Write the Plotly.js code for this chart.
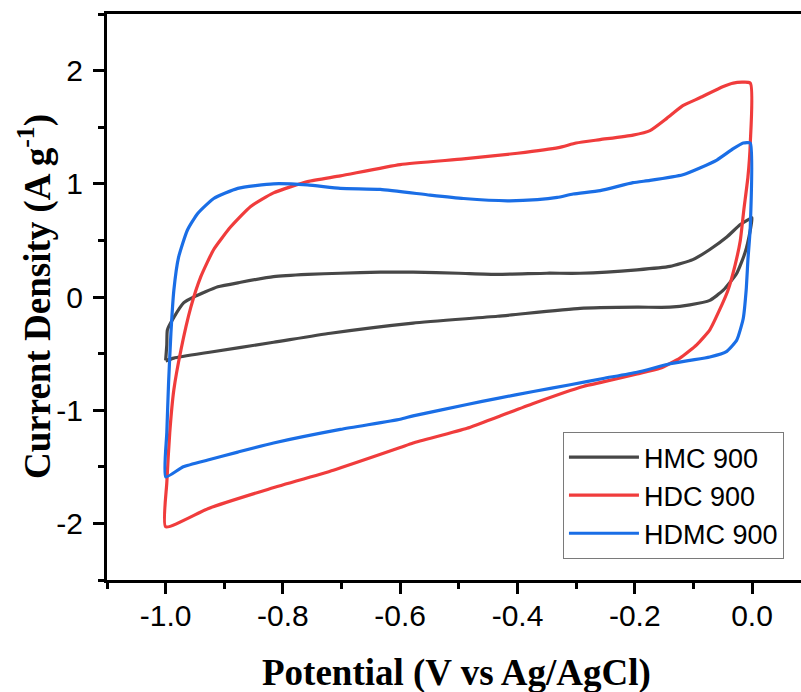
<!DOCTYPE html>
<html>
<head>
<meta charset="utf-8">
<script src="https://cdn.plot.ly/plotly-3.0.1.min.js"></script>
<style>html,body{margin:0;padding:0;background:#fff;overflow:hidden;}</style>
</head>
<body>
<div id="chart" style="width:801px;height:692px;"></div>
<script>
// Series names
const seriesNames = ["HMC 900", "HDC 900", "HDMC 900"];

// HMC 900 loop (anodic branch then cathodic branch)
const hmcX = [-1.0, -0.998, -0.997, -0.986, -0.969, -0.952, -0.911, -0.872, -0.816, -0.758, -0.702, -0.634, -0.578, -0.5, -0.434, -0.35, -0.293, -0.196, -0.14, -0.101, -0.072, -0.043, -0.02, -0.004, 0.0,
              -0.003, -0.012, -0.026, -0.049, -0.072, -0.106, -0.14, -0.196, -0.293, -0.434, -0.578, -0.719, -0.816, -0.928, -0.986, -1.0];
const hmcY = [-0.56, -0.42, -0.29, -0.18, -0.05, 0.0, 0.09, 0.13, 0.18, 0.20, 0.21, 0.22, 0.22, 0.21, 0.20, 0.21, 0.21, 0.24, 0.27, 0.33, 0.42, 0.53, 0.64, 0.69, 0.70,
              0.59, 0.39, 0.21, 0.06, -0.03, -0.07, -0.09, -0.09, -0.10, -0.17, -0.23, -0.32, -0.40, -0.49, -0.54, -0.565];

// HDC 900 loop
const hdcX = [-1.0, -0.998, -0.993, -0.986, -0.974, -0.957, -0.94, -0.918, -0.889, -0.855, -0.816, -0.758, -0.702, -0.6, -0.492, -0.4, -0.33, -0.3, -0.259, -0.203, -0.174, -0.145, -0.118, -0.089, -0.049, -0.032, -0.003,
              -0.003, -0.007, -0.014, -0.02, -0.029, -0.041, -0.055, -0.072, -0.094, -0.123, -0.157, -0.196, -0.254, -0.288, -0.373, -0.434, -0.486, -0.578, -0.6, -0.714, -0.826, -0.928, -1.0];
const hdcY = [-2.03, -1.64, -1.20, -0.82, -0.47, -0.09, 0.18, 0.42, 0.62, 0.80, 0.92, 1.02, 1.07, 1.17, 1.22, 1.27, 1.32, 1.36, 1.39, 1.43, 1.47, 1.58, 1.69, 1.76, 1.86, 1.89, 1.89,
              1.36, 1.06, 0.77, 0.50, 0.28, 0.06, -0.11, -0.29, -0.42, -0.54, -0.63, -0.68, -0.75, -0.79, -0.94, -1.06, -1.16, -1.29, -1.33, -1.53, -1.70, -1.87, -2.03];

// HDMC 900 loop
const hdmcX = [-1.0, -0.998, -0.995, -0.991, -0.986, -0.978, -0.963, -0.945, -0.918, -0.877, -0.816, -0.758, -0.702, -0.634, -0.549, -0.492, -0.417, -0.366, -0.332, -0.305, -0.259, -0.203, -0.174, -0.118, -0.089, -0.06, -0.032, -0.015, -0.003,
               -0.003, -0.007, -0.01, -0.015, -0.026, -0.043, -0.072, -0.106, -0.14, -0.196, -0.254, -0.31, -0.373, -0.434, -0.486, -0.578, -0.6, -0.702, -0.816, -0.877, -0.928, -0.97, -1.0];
const hdmcY = [-1.59, -1.20, -0.76, -0.32, 0.06, 0.35, 0.59, 0.74, 0.87, 0.96, 1.0, 0.99, 0.96, 0.95, 0.90, 0.87, 0.85, 0.86, 0.88, 0.91, 0.94, 1.01, 1.03, 1.08, 1.14, 1.21, 1.31, 1.36, 1.36,
               0.62, 0.33, 0.06, -0.19, -0.38, -0.48, -0.53, -0.56, -0.59, -0.665, -0.72, -0.775, -0.835, -0.895, -0.95, -1.05, -1.08, -1.17, -1.29, -1.37, -1.44, -1.50, -1.59];

// Tick labels
const xTickVals = [-1.0, -0.8, -0.6, -0.4, -0.2, 0.0];
const xTickText = ["-1.0", "-0.8", "-0.6", "-0.4", "-0.2", "0.0"];
const yTickVals = [-2, -1, 0, 1, 2];
const yTickText = ["-2", "-1", "0", "1", "2"];

const colors = ["#474747", "#f03c3c", "#1a6ee6"];

const traces = [
  {x: hmcX, y: hmcY, name: seriesNames[0]},
  {x: hdcX, y: hdcY, name: seriesNames[1]},
  {x: hdmcX, y: hdmcY, name: seriesNames[2]}
].map((t, i) => Object.assign(t, {
  type: "scatter", mode: "lines",
  line: {color: colors[i], width: 3.2, shape: "spline", smoothing: 0.5},
  hoverinfo: "skip"
}));

const tickFont = {family: "Liberation Sans, Arial, sans-serif", size: 30, color: "#000"};
const titleFont = {family: "Liberation Serif, Times New Roman, serif", size: 37, color: "#000", weight: "bold"};

const layout = {
  width: 801, height: 692,
  margin: {l: 107, r: 0, t: 14, b: 112, pad: 0},
  paper_bgcolor: "#fff", plot_bgcolor: "#fff",
  showlegend: true,
  legend: {
    x: 0.657, y: 0.2615, xanchor: "left", yanchor: "top",
    bgcolor: "#fff", bordercolor: "#7a7a7a", borderwidth: 1,
    font: {family: "Liberation Sans, Arial, sans-serif", size: 27, color: "#000"},
    itemwidth: 70, tracegroupgap: 0
  },
  xaxis: {
    range: [-1.1, 0.0835], showgrid: false, zeroline: false,
    showline: true, linecolor: "#000", linewidth: 3, mirror: true,
    ticks: "outside", ticklen: 11, tickwidth: 3, tickcolor: "#000",
    tickmode: "array", tickvals: xTickVals, ticktext: xTickText,
    tickfont: tickFont, ticklabelstandoff: -4,
    minor: {tickmode: "linear", tick0: 0, dtick: 0.1, ticks: "outside", ticklen: 6, tickwidth: 3, tickcolor: "#000", showgrid: false}
  },
  yaxis: {
    range: [-2.5, 2.5], showgrid: false, zeroline: false,
    showline: true, linecolor: "#000", linewidth: 3, mirror: false,
    ticks: "outside", ticklen: 11, tickwidth: 3, tickcolor: "#000",
    tickmode: "array", tickvals: yTickVals, ticktext: yTickText,
    tickfont: tickFont, ticklabelstandoff: 4,
    minor: {tickmode: "linear", tick0: 0, dtick: 0.5, ticks: "outside", ticklen: 6, tickwidth: 3, tickcolor: "#000", showgrid: false}
  },
  annotations: [
    {text: "Potential (V vs Ag/AgCl)", xref: "paper", yref: "paper", x: 0.504, y: -0.164,
     xanchor: "center", yanchor: "middle", showarrow: false, font: titleFont},
    {text: "Current Density (A g<sup>-1</sup>)", xref: "paper", yref: "paper", x: -0.1037, y: 0.5,
     xanchor: "center", yanchor: "middle", textangle: -90, showarrow: false, font: titleFont}
  ]
};

Plotly.newPlot("chart", traces, layout, {displayModeBar: false, staticPlot: true});
</script>
</body>
</html>
